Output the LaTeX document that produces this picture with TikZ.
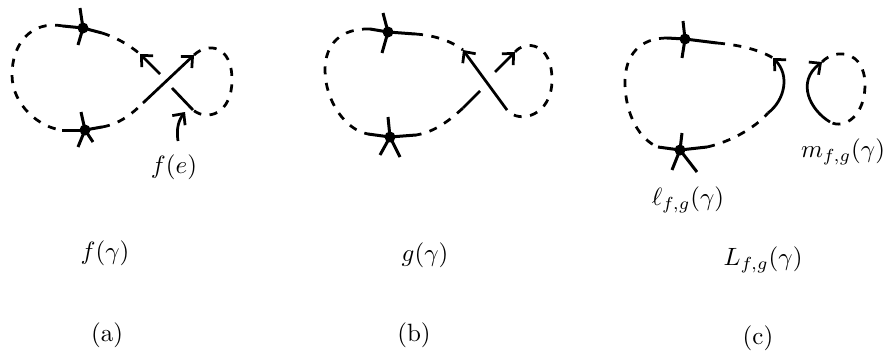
\documentclass[tikz,border=0pt]{standalone}
\usetikzlibrary{arrows.meta}
\begin{document}
\begin{tikzpicture}[x=0.4pt,y=-0.4pt,
  vtx/.style={circle,fill,inner sep=0pt,minimum size=4.4pt},
  spoke/.style={line width=1.2pt},
  dsh/.style={line width=1.1pt,dash pattern=on 3.2pt off 3.4pt},
  sol/.style={line width=1.1pt},
  arr/.style={-{Straight Barb[length=3.4pt,width=6.4pt,line width=1.1pt]}},
  lbl/.style={inner sep=0pt}]
\useasboundingbox (0,0) rectangle (886,360);

% ---------- panel (a) ----------
\node[vtx] (a1) at (83,28) {};
\node[vtx] (a2) at (85,130) {};
\coordinate (a1l) at (63,26); \coordinate (a1r) at (102,33);
\coordinate (a1u) at (80,8);  \coordinate (a1d) at (78,45);
\coordinate (a2l) at (62,130); \coordinate (a2r) at (102,127);
\coordinate (a2u) at (81,112); \coordinate (a2dl) at (78,147); \coordinate (a2dr) at (93,142);
\foreach \e in {a1l,a1r,a1u,a1d} \draw[spoke] (a1.center) -- (\e);
\foreach \e in {a2l,a2r,a2u,a2dl,a2dr} \draw[spoke] (a2.center) -- (\e);
\coordinate (aT1) at (140,54); \coordinate (aS1) at (160,74);
\coordinate (aT2) at (194,55); \coordinate (aS2) at (143,103);
\coordinate (aG1) at (172,88); \coordinate (aG2) at (193,110);
\draw[dsh] (a1l) .. controls (30,20) and (12,45) .. (12,75)
           .. controls (12,105) and (40,128) .. (a2l);
\draw[dsh] (a1r) .. controls (115,37) and (128,44) .. (aT1);
\draw[sol,arr] (aS1) -- (aT1);
\draw[sol,arr] (aS2) -- (aT2);
\draw[dsh] (a2r) .. controls (120,124) and (133,113) .. (aS2);
\draw[dsh] (aT2) .. controls (208,42) and (232,45) .. (232,80)
           .. controls (232,113) and (208,122) .. (aG2);
\draw[sol] (aG1) -- (aG2);
\node[lbl] (fe) at (174,167) {$f(e)$};
\coordinate (feS) at (178,141);
\coordinate (feT) at (185,112);
\draw[sol,arr] (feS) .. controls (176,128) and (179,120) .. (feT);
\node[lbl] (fg) at (105,253) {$f(\gamma)$};
\node[lbl] (la) at (107,335) {(a)};

% ---------- panel (b) ----------
\node[vtx] (b1) at (388,32) {};
\node[vtx] (b2) at (390,137) {};
\coordinate (b1l) at (370,29); \coordinate (b1r) at (415,34);
\coordinate (b1u) at (383,13); \coordinate (b1d) at (382,53);
\coordinate (b2l) at (368,134); \coordinate (b2r) at (416,135);
\coordinate (b2u) at (388,117); \coordinate (b2dl) at (380,155); \coordinate (b2dr) at (400,157);
\foreach \e in {b1l,b1r,b1u,b1d} \draw[spoke] (b1.center) -- (\e);
\foreach \e in {b2l,b2r,b2u,b2dl,b2dr} \draw[spoke] (b2.center) -- (\e);
\coordinate (bT1) at (463,50); \coordinate (bS1) at (507,110);
\coordinate (bT2) at (515,52); \coordinate (bS2) at (495,72);
\coordinate (bG1) at (480,91); \coordinate (bG2) at (463,108);
\draw[dsh] (b1l) .. controls (340,28) and (325,45) .. (325,70)
           .. controls (325,100) and (345,130) .. (b2l);
\draw[dsh] (b1r) .. controls (432,35) and (450,40) .. (bT1);
\draw[sol,arr] (bS1) -- (bT1);
\draw[sol,arr] (bS2) -- (bT2);
\draw[dsh] (bT2) .. controls (525,40) and (552,42) .. (552,80)
           .. controls (552,115) and (520,125) .. (bS1);
\draw[sol] (bG1) -- (bG2);
\draw[dsh] (bG2) .. controls (450,120) and (435,132) .. (b2r);
\node[lbl] (gg) at (425,255) {$g(\gamma)$};
\node[lbl] (lb) at (414,335) {(b)};

% ---------- panel (c) ----------
\node[vtx] (c1) at (685,39) {};
\node[vtx] (c2) at (680,150) {};
\coordinate (c1l) at (667,38); \coordinate (c1r) at (717,43);
\coordinate (c1u) at (683,21); \coordinate (c1d) at (682,58);
\coordinate (c2l) at (658,147); \coordinate (c2r) at (707,147);
\coordinate (c2u) at (682,133); \coordinate (c2dl) at (672,170); \coordinate (c2dr) at (697,172);
\foreach \e in {c1l,c1r,c1u,c1d} \draw[spoke] (c1.center) -- (\e);
\foreach \e in {c2l,c2r,c2u,c2dl,c2dr} \draw[spoke] (c2.center) -- (\e);
\coordinate (cT1) at (773,58); \coordinate (cS1) at (768,113);
\coordinate (cT2) at (822,62); \coordinate (cS2) at (830,122);
\draw[dsh] (c1l) .. controls (640,38) and (625,55) .. (625,82)
           .. controls (625,115) and (640,140) .. (c2l);
\draw[dsh] (c1r) .. controls (740,45) and (760,50) .. (cT1);
\draw[sol,arr] (cS1) .. controls (785,100) and (790,75) .. (cT1);
\draw[dsh] (c2r) .. controls (730,142) and (755,128) .. (cS1);
\draw[sol,arr] (cS2) .. controls (810,110) and (796,82) .. (cT2);
\draw[dsh] (cT2) .. controls (835,48) and (865,50) .. (865,85)
           .. controls (865,115) and (845,130) .. (cS2);
\node[lbl] (ell) at (688,200) {$\ell_{f,g}(\gamma)$};
\node[lbl] (mm) at (843,152) {$m_{f,g}(\gamma)$};
\node[lbl] (LL) at (763,260) {$L_{f,g}(\gamma)$};
\node[lbl] (lc) at (758,338) {(c)};
\end{tikzpicture}
\end{document}
